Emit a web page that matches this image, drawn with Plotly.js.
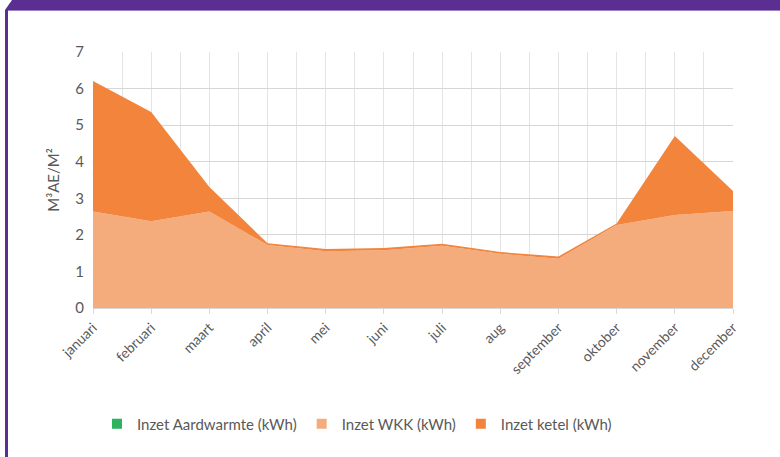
<!DOCTYPE html>
<html>
<head>
<meta charset="utf-8">
<script src="https://cdn.plot.ly/plotly-3.0.1.min.js"></script>
<style>
html,body{margin:0;padding:0;background:#fff;}
#chart{width:780px;height:457px;}
</style>
</head>
<body>
<div id="chart"></div>
<script>
const months = ['januari','februari','maart','april','mei','juni','juli','aug','september','oktober','november','december'];
const aardwarmte = [0,0,0,0,0,0,0,0,0,0,0,0];
const wkk = [2.64,2.37,2.64,1.72,1.55,1.58,1.70,1.48,1.35,2.27,2.54,2.65];
const ketel = [3.57,2.99,0.67,0.05,0.06,0.06,0.06,0.05,0.06,0.04,2.16,0.55];
const seriesNames = ['Inzet Aardwarmte (kWh)','Inzet WKK (kWh)','Inzet ketel (kWh)'];
const colors = ['#2DB35D','#F5AC7D','#F2843B'];

const xIdx = months.map((m,i)=>i);

// plot area geometry in pixels
const L = 93, R = 733, T = 52, B = 308;
const px = v => (v - L) / (R - L);
const py = v => (B - v) / (B - T);

const traces = [
  {x:xIdx, y:aardwarmte, type:'scatter', mode:'none', stackgroup:'s', fillcolor:colors[0], showlegend:false, hoverinfo:'skip'},
  {x:xIdx, y:wkk, type:'scatter', mode:'none', stackgroup:'s', fillcolor:colors[1], showlegend:false, hoverinfo:'skip'},
  {x:xIdx, y:ketel, type:'scatter', mode:'none', stackgroup:'s', fillcolor:colors[2], showlegend:false, hoverinfo:'skip'}
];
seriesNames.forEach((n,i)=>{
  traces.push({x:[null], y:[null], type:'scatter', mode:'markers', name:n,
    marker:{symbol:'square', size:10, color:colors[i]}});
});

const purple = '#5B2F91';
const layout = {
  width:780, height:457,
  margin:{l:L, r:780-R, t:T, b:457-B, pad:0},
  paper_bgcolor:'#fff', plot_bgcolor:'#fff',
  font:{family:'Lato, "Open Sans", sans-serif', color:'#595959'},
  showlegend:true,
  legend:{orientation:'h', traceorder:'normal', x:px(357), xanchor:'center', y:py(424), yanchor:'middle',
    font:{size:15, color:'#595959'}, itemwidth:30, tracegroupgap:0},
  xaxis:{
    range:[0,11], tickmode:'array', tickvals:xIdx, ticktext:months, tickangle:-45,
    showgrid:true, gridcolor:'#e4e4e4', gridwidth:1,
    minor:{dtick:0.5, tick0:0, showgrid:true, gridcolor:'#e4e4e4', gridwidth:1},
    zeroline:false, showline:false,
    ticks:'outside', ticklen:5, tickcolor:'#d9d9d9',
    tickfont:{size:14, color:'#595959'}, fixedrange:true
  },
  yaxis:{
    range:[0,7], dtick:1, tick0:0,
    showgrid:true, gridcolor:'#d6d6d6', gridwidth:1,
    zeroline:true, zerolinecolor:'#d6d6d6', zerolinewidth:1, showline:false,
    ticks:'', tickfont:{size:15, color:'#595959'}, ticklabelstandoff:8,
    title:{text:'M³AE/M²', font:{size:15, color:'#595959'}, standoff:12}, fixedrange:true
  },
  shapes:[
    {type:'path', xref:'paper', yref:'paper', layer:'above',
     path:`M ${px(12)} ${py(0)} L ${px(780)} ${py(0)} L ${px(780)} ${py(10)} L ${px(5)} ${py(10)} Z`,
     fillcolor:purple, line:{width:0}},
    {type:'line', xref:'paper', yref:'paper', x0:px(5), x1:px(780), y0:py(10.5), y1:py(10.5),
     line:{color:'#9C82C2', width:1}},
    {type:'rect', xref:'paper', yref:'paper', x0:px(5), x1:px(8), y0:py(10), y1:py(457),
     fillcolor:purple, line:{width:0}}
  ]
};

Plotly.newPlot('chart', traces, layout, {displayModeBar:false, staticPlot:true});
</script>
</body>
</html>
